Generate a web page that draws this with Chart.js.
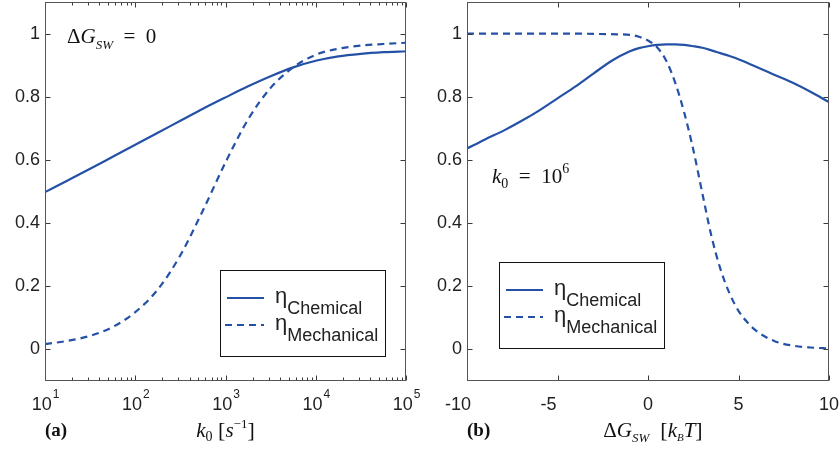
<!DOCTYPE html>
<html lang="en">
<head>
<meta charset="UTF-8">
<title>Efficiency curves</title>
<script src="https://cdn.jsdelivr.net/npm/chart.js"></script>
<style>
  html, body { margin: 0; padding: 0; background: #fff; }
  #wrap { position: relative; width: 840px; height: 452px; }
  canvas { position: absolute; top: 0; }
</style>
</head>
<body>
<div id="wrap">
  <canvas id="left" width="420" height="452" style="left:0"></canvas>
  <canvas id="right" width="420" height="452" style="left:420px"></canvas>
</div>
<script>
// panel (a): efficiency vs k0, dG_SW = 0
const k0Values = [10, 17.8, 31.6, 56.2, 100, 178, 316, 562, 1000, 1778, 3162, 5623, 10000, 17783, 31623, 56234, 100000];
const chemA = [0.498, 0.535, 0.572, 0.610, 0.648, 0.686, 0.724, 0.762, 0.798, 0.833, 0.865, 0.893, 0.914, 0.928, 0.936, 0.941, 0.944];
const mechA = [0.017, 0.027, 0.043, 0.071, 0.118, 0.190, 0.298, 0.440, 0.592, 0.728, 0.828, 0.893, 0.933, 0.952, 0.962, 0.967, 0.971];
const k0Decades = [1, 2, 3, 4, 5];

// panel (b): efficiency vs dG_SW, k0 = 10^6
const dGValues = [-10, -9, -8, -7, -6, -5, -4, -3, -2, -1, -0.5, 0, 0.5, 1, 1.5, 2, 2.5, 3, 3.5, 4, 4.5, 5, 5.5, 6, 7, 8, 9, 10];
const chemB = [0.636, 0.665, 0.692, 0.723, 0.757, 0.795, 0.833, 0.874, 0.914, 0.944, 0.954, 0.960, 0.964, 0.966, 0.966, 0.964, 0.960, 0.955, 0.947, 0.938, 0.929, 0.919, 0.907, 0.894, 0.869, 0.844, 0.815, 0.783];
const mechB = [1.000, 1.000, 1.000, 1.000, 1.000, 1.000, 1.000, 0.999, 0.998, 0.996, 0.990, 0.978, 0.957, 0.915, 0.845, 0.750, 0.633, 0.495, 0.360, 0.255, 0.178, 0.122, 0.085, 0.058, 0.026, 0.012, 0.006, 0.003];
const dGTicks = [-10, -5, 0, 5, 10];

const yTicks = [0, 0.2, 0.4, 0.6, 0.8, 1];
const seriesNames = ['Chemical', 'Mechanical'];

const BLUE = '#2451a6';
const SANS = '"Liberation Sans", Arial, sans-serif';
const SERIF = '"Liberation Serif", "Times New Roman", serif';

// draw a run of text pieces [text, font, dy]
function drawRich(ctx, parts, x, y, center) {
  let w = 0;
  parts.forEach(p => { ctx.font = p[1]; w += ctx.measureText(p[0]).width; });
  let cx = center ? x - w / 2 : x;
  ctx.textAlign = 'left';
  ctx.textBaseline = 'alphabetic';
  parts.forEach(p => {
    ctx.font = p[1];
    ctx.fillText(p[0], cx, y + (p[2] || 0));
    cx += ctx.measureText(p[0]).width;
  });
}

const framePlugin = {
  id: 'frame',
  afterDatasetsDraw(chart) {
    const { ctx, chartArea: a, scales: { x, y } } = chart;
    const L = Math.round(a.left) + 0.5, R = Math.round(a.right) - 0.5;
    const T = Math.round(a.top) + 0.5, B = Math.round(a.bottom) - 0.5;
    ctx.save();
    ctx.strokeStyle = '#3a3a3a';
    ctx.lineWidth = 1;
    ctx.beginPath();
    y.ticks.forEach(t => {
      const py = Math.round(y.getPixelForValue(t.value)) + 0.5;
      ctx.moveTo(L, py); ctx.lineTo(L + 5, py);
      ctx.moveTo(R, py); ctx.lineTo(R - 5, py);
    });
    x.ticks.forEach(t => {
      const px = Math.round(x.getPixelForValue(t.value)) + 0.5;
      const len = t.major === false ? 3 : 5;
      ctx.moveTo(px, B); ctx.lineTo(px, B - len);
      ctx.moveTo(px, T); ctx.lineTo(px, T + len);
    });
    ctx.stroke();
    ctx.strokeStyle = '#555';
    ctx.strokeRect(L, T, R - L, B - T);
    ctx.restore();
  }
};

const textPlugin = {
  id: 'texts',
  afterDraw(chart, args, o) {
    const { ctx, chartArea: a, scales: { x } } = chart;
    ctx.save();
    ctx.fillStyle = '#222';

    if (o.logLabels) {
      // 10^n under the log axis
      k0Decades.forEach(d => {
        const px = x.getPixelForValue(Math.pow(10, d));
        ctx.font = '18px ' + SANS;
        const w1 = ctx.measureText('10').width;
        ctx.font = '12px ' + SANS;
        const w2 = ctx.measureText(String(d)).width;
        const sx = px - (w1 + w2) / 2;
        ctx.font = '18px ' + SANS;
        ctx.fillText('10', sx, a.bottom + 29);
        ctx.font = '12px ' + SANS;
        ctx.fillText(String(d), sx + w1 + 1, a.bottom + 17);
      });
    } else {
      // linear labels; negatives sit a little to the left as in the figure
      ctx.font = '18px ' + SANS;
      ctx.textAlign = 'center';
      dGTicks.forEach(v => {
        const px = x.getPixelForValue(v) + (v < 0 ? -9 : 0);
        ctx.fillText(String(v), px, a.bottom + 29);
      });
    }

    // panel letter and axis title
    ctx.fillStyle = '#111';
    drawRich(ctx, [[o.letter, 'bold 19px ' + SERIF]], a.left, a.bottom + 55, false);
    drawRich(ctx, o.title, (a.left + a.right) / 2 + o.titleShift, a.bottom + 56, true);

    // annotation inside the plot
    drawRich(ctx, o.note, o.noteAt[0], o.noteAt[1], false);

    // legend box
    const b = o.legendBox;
    ctx.fillStyle = '#fff';
    ctx.fillRect(b.x, b.y, b.w, b.h);
    ctx.strokeStyle = '#111';
    ctx.lineWidth = 1;
    ctx.strokeRect(b.x + 0.5, b.y + 0.5, b.w, b.h);
    chart.data.datasets.forEach((ds, i) => {
      const ly = b.y + 28 + i * 27;
      ctx.strokeStyle = ds.borderColor;
      ctx.lineWidth = ds.borderWidth;
      ctx.setLineDash(ds.borderDash || []);
      ctx.beginPath();
      ctx.moveTo(b.x + (i ? 5 : 7), ly);
      ctx.lineTo(b.x + 44, ly);
      ctx.stroke();
      ctx.setLineDash([]);
      ctx.fillStyle = '#222';
      drawRich(ctx, [['η', '22px ' + SANS, 5], [seriesNames[i], '18px ' + SANS, 16]], b.x + 55, ly, false);
    });
    ctx.restore();
  }
};

function makeSeries(xs, ys) {
  return xs.map((v, i) => ({ x: v, y: ys[i] }));
}

function yScale(width) {
  return {
    min: -0.1, max: 1.1,
    afterBuildTicks: s => { s.ticks = yTicks.map(v => ({ value: v })); },
    afterFit: s => { s.width = width; s.paddingTop = 0; s.paddingBottom = 0; },
    grid: { display: false, drawTicks: false },
    border: { display: false },
    ticks: { color: '#222', padding: 5, font: { family: SANS, size: 18 }, callback: v => String(v) }
  };
}

function xFit(s) {
  s.height = 71;
  s.paddingLeft = 0;
  s.paddingRight = 0;
}

function datasets(xs, chem, mech) {
  return [
    { label: 'η ' + seriesNames[0], data: makeSeries(xs, chem), borderColor: BLUE, borderWidth: 2.2,
      pointRadius: 0, cubicInterpolationMode: 'monotone', fill: false },
    { label: 'η ' + seriesNames[1], data: makeSeries(xs, mech), borderColor: BLUE, borderWidth: 2.2,
      borderDash: [7, 5], pointRadius: 0, cubicInterpolationMode: 'monotone', fill: false }
  ];
}

Chart.defaults.animation = false;

new Chart(document.getElementById('left'), {
  type: 'line',
  data: { datasets: datasets(k0Values, chemA, mechA) },
  options: {
    responsive: false,
    layout: { padding: { left: 0, right: 14, top: 2, bottom: 0 } },
    plugins: {
      legend: { display: false },
      tooltip: { enabled: false },
      texts: {
        logLabels: true,
        letter: '(a)',
        title: [['k', 'italic 21px ' + SERIF], ['0', '14px ' + SERIF, 4], [' [', '22px ' + SERIF],
                ['s', 'italic 21px ' + SERIF], ['−1', '13px ' + SERIF, -9], [']', '22px ' + SERIF]],
        titleShift: 0,
        note: [['Δ', '21px ' + SERIF], ['G', 'italic 21px ' + SERIF], ['SW', 'italic 13px ' + SERIF, 6],
               ['\u2002=\u20020', '21px ' + SERIF]],
        noteAt: [67, 43],
        legendBox: { x: 220, y: 270, w: 165, h: 86 }
      }
    },
    scales: {
      x: {
        type: 'logarithmic', min: 10, max: 100000,
        afterBuildTicks: s => {
          const t = [];
          k0Decades.forEach((d, i) => {
            t.push({ value: Math.pow(10, d), major: true });
            if (i < k0Decades.length - 1) {
              for (let m = 2; m <= 9; m++) t.push({ value: m * Math.pow(10, d), major: false });
            }
          });
          s.ticks = t;
        },
        afterFit: xFit,
        grid: { display: false, drawTicks: false },
        border: { display: false },
        ticks: { display: false }
      },
      y: yScale(45)
    }
  },
  plugins: [framePlugin, textPlugin]
});

new Chart(document.getElementById('right'), {
  type: 'line',
  data: { datasets: datasets(dGValues, chemB, mechB) },
  options: {
    responsive: false,
    layout: { padding: { left: 0, right: 11, top: 2, bottom: 0 } },
    plugins: {
      legend: { display: false },
      tooltip: { enabled: false },
      texts: {
        logLabels: false,
        letter: '(b)',
        title: [['Δ', '21px ' + SERIF], ['G', 'italic 21px ' + SERIF], ['SW', 'italic 13px ' + SERIF, 5],
                ['  [', '22px ' + SERIF], ['k', 'italic 21px ' + SERIF], ['B', 'italic 11px ' + SERIF, 4],
                ['T', 'italic 21px ' + SERIF], [']', '22px ' + SERIF]],
        titleShift: 5,
        note: [['k', 'italic 21px ' + SERIF], ['0', '14px ' + SERIF, 5], ['\u2002=\u200210', '21px ' + SERIF],
               ['6', '14px ' + SERIF, -10]],
        noteAt: [72, 183],
        legendBox: { x: 79, y: 262, w: 165, h: 86 }
      }
    },
    scales: {
      x: {
        type: 'linear', min: -10, max: 10,
        afterBuildTicks: s => { s.ticks = dGTicks.map(v => ({ value: v })); },
        afterFit: xFit,
        grid: { display: false, drawTicks: false },
        border: { display: false },
        ticks: { display: false }
      },
      y: yScale(47)
    }
  },
  plugins: [framePlugin, textPlugin]
});
</script>
</body>
</html>
